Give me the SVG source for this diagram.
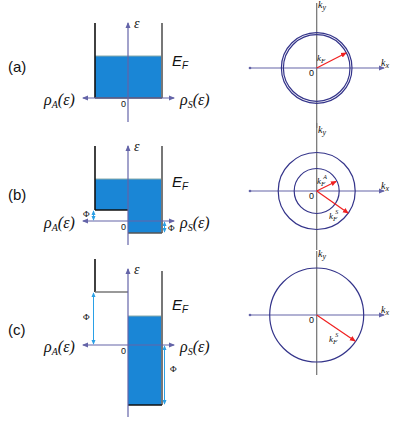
<svg xmlns="http://www.w3.org/2000/svg" width="415" height="426" viewBox="0 0 415 426">
<defs>
<style>
.ax{stroke:#6464a8;stroke-width:1.2;fill:none}
.vax{stroke:#707070;stroke-width:1.2;fill:none}
.wall{stroke:#111;stroke-width:1.6;fill:none}
.gwall{stroke:#777;stroke-width:2;fill:none}
.fill{fill:#1a86d6}
.phi{stroke:#2aa0e6;stroke-width:1}
.circ{stroke:#34348a;stroke-width:1.2;fill:none}
.kf{stroke:#f02020;stroke-width:1.2}
.lab{font-family:"Liberation Sans",Arial,sans-serif;fill:#111}
.ser{font-family:"Liberation Serif","DejaVu Serif",serif;font-style:italic;fill:#111}
.sm{font-family:"Liberation Serif",serif;fill:#111;font-size:9px}
.zero{font-family:"Liberation Sans",Arial,sans-serif;font-size:9px;fill:#111}
</style>
<marker id="ah" viewBox="0 0 6 6" refX="5" refY="3" markerWidth="5" markerHeight="5" orient="auto-start-reverse"><path d="M0,0.5 L6,3 L0,5.5z" fill="#6464a8"/></marker>
<marker id="ahb" viewBox="0 0 6 6" refX="5" refY="3" markerWidth="5" markerHeight="5" orient="auto-start-reverse"><path d="M0,0.5 L6,3 L0,5.5z" fill="#2aa0e6"/></marker>
<marker id="ahr" viewBox="0 0 6 6" refX="5" refY="3" markerWidth="5" markerHeight="5" orient="auto"><path d="M0,0.5 L6,3 L0,5.5z" fill="#f02020"/></marker>
<marker id="dot" viewBox="0 0 4 4" refX="2" refY="2" markerWidth="3" markerHeight="3"><circle cx="2" cy="2" r="1.5" fill="#6464a8"/></marker>
</defs>
<rect width="415" height="426" fill="#fff"/>

<!-- panel labels -->
<g id="label-a"><text class="lab" x="8" y="72" font-size="15">(a)</text></g>
<g id="label-b"><text class="lab" x="8" y="200" font-size="15">(b)</text></g>
<g id="label-c"><text class="lab" x="8" y="335" font-size="15">(c)</text></g>

<!-- (a) left -->
<g id="dos-a">
<rect class="fill" x="95" y="56" width="67" height="42"/>
<line x1="95" y1="56" x2="162" y2="56" stroke="#8aa" stroke-width="1"/>
<line class="wall" x1="95" y1="23" x2="95" y2="98"/>
<line class="gwall" x1="162" y1="23" x2="162" y2="98"/>
<line x1="95" y1="98" x2="162" y2="98" stroke="#555" stroke-width="1.6"/>
<line class="ax" x1="128" y1="122" x2="128" y2="23" marker-end="url(#ah)"/>
<line class="ax" x1="83" y1="98" x2="174" y2="98" marker-start="url(#ah)" marker-end="url(#ah)"/>
<text class="ser" x="134" y="28" font-size="14">ε</text>
<text class="zero" x="121" y="107">0</text>
<text class="lab" x="172" y="66" font-size="15" font-style="italic">E<tspan font-size="10" dy="3">F</tspan></text>
<text class="ser" x="44" y="105" font-size="16">ρ<tspan font-size="10" dy="3">A</tspan><tspan dy="-3">(ε)</tspan></text>
<text class="ser" x="180" y="105" font-size="16">ρ<tspan font-size="10" dy="3">S</tspan><tspan dy="-3">(ε)</tspan></text>
</g>

<!-- (a) right -->
<g id="fs-a">
<line class="vax" x1="316.7" y1="128" x2="316.7" y2="3"/>
<line class="ax" x1="250" y1="68" x2="384" y2="68" marker-start="url(#dot)" marker-end="url(#ah)"/>
<circle class="circ" cx="316.7" cy="68" r="33.3"/>
<circle class="circ" cx="316.7" cy="68" r="35.3"/>
<line class="kf" x1="316.7" y1="68" x2="346" y2="53" marker-end="url(#ahr)"/>
<text class="ser" x="318" y="8" font-size="10">k<tspan font-size="8" dy="2">y</tspan></text>
<text class="ser" x="381" y="66" font-size="10">k<tspan font-size="8" dy="2">x</tspan></text>
<text class="ser" x="317" y="61" font-size="9">k<tspan font-size="7" dy="2">F</tspan></text>
<text class="zero" x="309" y="76">0</text>
</g>

<!-- (b) left -->
<g id="dos-b">
<rect class="fill" x="95" y="179" width="33" height="31"/>
<rect class="fill" x="128" y="179" width="34" height="54"/>
<line x1="95" y1="179" x2="162" y2="179" stroke="#8aa" stroke-width="1"/>
<line class="wall" x1="95" y1="146" x2="95" y2="210"/>
<line x1="95" y1="210" x2="128" y2="210" stroke="#111" stroke-width="1.6"/>
<line class="gwall" x1="162" y1="146" x2="162" y2="233"/>
<line x1="128" y1="233" x2="162" y2="233" stroke="#555" stroke-width="1.6"/>
<line class="ax" x1="128" y1="245" x2="128" y2="146" marker-end="url(#ah)"/>
<line class="ax" x1="83" y1="221" x2="174" y2="221" marker-start="url(#ah)" marker-end="url(#ah)"/>
<line class="phi" x1="93.5" y1="211" x2="93.5" y2="220" marker-start="url(#ahb)" marker-end="url(#ahb)"/>
<line class="phi" x1="164.5" y1="222" x2="164.5" y2="232" marker-start="url(#ahb)" marker-end="url(#ahb)"/>
<text class="sm" x="83" y="217">Φ</text>
<text class="sm" x="168" y="231">Φ</text>
<text class="ser" x="134" y="151" font-size="14">ε</text>
<text class="zero" x="121" y="230">0</text>
<text class="lab" x="172" y="187" font-size="15" font-style="italic">E<tspan font-size="10" dy="3">F</tspan></text>
<text class="ser" x="44" y="228" font-size="16">ρ<tspan font-size="10" dy="3">A</tspan><tspan dy="-3">(ε)</tspan></text>
<text class="ser" x="180" y="228" font-size="16">ρ<tspan font-size="10" dy="3">S</tspan><tspan dy="-3">(ε)</tspan></text>
</g>

<!-- (b) right -->
<g id="fs-b">
<line class="vax" x1="316.7" y1="250" x2="316.7" y2="123"/>
<line class="ax" x1="250" y1="191" x2="384" y2="191" marker-start="url(#dot)" marker-end="url(#ah)"/>
<circle class="circ" cx="316.7" cy="191" r="22.5"/>
<circle class="circ" cx="316.7" cy="191" r="38.5"/>
<line class="kf" x1="316.7" y1="191" x2="336" y2="181.5" marker-end="url(#ahr)"/>
<line class="kf" x1="316.7" y1="191" x2="348" y2="213" marker-end="url(#ahr)"/>
<text class="ser" x="318" y="133" font-size="10">k<tspan font-size="8" dy="2">y</tspan></text>
<text class="ser" x="381" y="189" font-size="10">k<tspan font-size="8" dy="2">x</tspan></text>
<text class="ser" x="317" y="184" font-size="9">k<tspan font-size="7" dy="2">F</tspan><tspan font-size="6" dx="-2" dy="-7">A</tspan></text>
<text class="ser" x="329" y="219" font-size="9">k<tspan font-size="7" dy="2">F</tspan><tspan font-size="6" dx="-2" dy="-7">S</tspan></text>
<text class="zero" x="309" y="199">0</text>
</g>

<!-- (c) left -->
<g id="dos-c">
<rect class="fill" x="128" y="316" width="34" height="89"/>
<line x1="128" y1="316" x2="162" y2="316" stroke="#8aa" stroke-width="1"/>
<line class="wall" x1="95" y1="259" x2="95" y2="292"/>
<line x1="95" y1="292" x2="128" y2="292" stroke="#777" stroke-width="1.6"/>
<line class="gwall" x1="162" y1="271" x2="162" y2="405"/>
<line x1="128" y1="405" x2="162" y2="405" stroke="#111" stroke-width="1.6"/>
<line class="ax" x1="128" y1="417" x2="128" y2="269" marker-end="url(#ah)"/>
<line class="ax" x1="83" y1="345" x2="174" y2="345" marker-start="url(#ah)" marker-end="url(#ah)"/>
<line class="phi" x1="93.5" y1="293" x2="93.5" y2="344" marker-start="url(#ahb)" marker-end="url(#ahb)"/>
<line class="phi" x1="164.5" y1="346" x2="164.5" y2="404" marker-start="url(#ahb)" marker-end="url(#ahb)"/>
<text class="sm" x="83" y="320">Φ</text>
<text class="sm" x="170" y="372">Φ</text>
<text class="ser" x="134" y="274" font-size="14">ε</text>
<text class="zero" x="121" y="354">0</text>
<text class="lab" x="172" y="310" font-size="15" font-style="italic">E<tspan font-size="10" dy="3">F</tspan></text>
<text class="ser" x="44" y="352" font-size="16">ρ<tspan font-size="10" dy="3">A</tspan><tspan dy="-3">(ε)</tspan></text>
<text class="ser" x="180" y="352" font-size="16">ρ<tspan font-size="10" dy="3">S</tspan><tspan dy="-3">(ε)</tspan></text>
</g>

<!-- (c) right -->
<g id="fs-c">
<line class="vax" x1="316.7" y1="375" x2="316.7" y2="251"/>
<line class="ax" x1="250" y1="315" x2="384" y2="315" marker-start="url(#dot)" marker-end="url(#ah)"/>
<circle class="circ" cx="316.7" cy="315" r="47"/>
<line class="kf" x1="316.7" y1="315" x2="355" y2="341" marker-end="url(#ahr)"/>
<text class="ser" x="318" y="257" font-size="10">k<tspan font-size="8" dy="2">y</tspan></text>
<text class="ser" x="381" y="313" font-size="10">k<tspan font-size="8" dy="2">x</tspan></text>
<text class="ser" x="329" y="342" font-size="9">k<tspan font-size="7" dy="2">F</tspan><tspan font-size="6" dx="-2" dy="-7">S</tspan></text>
<text class="zero" x="309" y="323">0</text>
</g>
<g id="connectors"/>
</svg>
